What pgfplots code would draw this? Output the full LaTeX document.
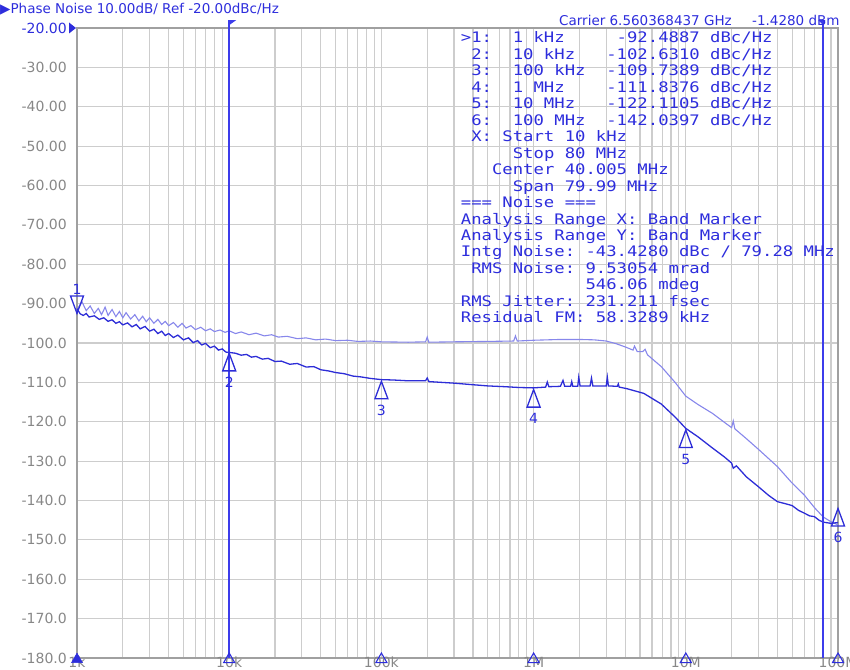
\documentclass[border=0pt]{standalone}
\usepackage{fontspec}
\setmainfont{DejaVu Sans}
\newfontfamily\monofont[FakeStretch=1.19]{DejaVu Sans Mono}
\usepackage{pgfplots}
\pgfplotsset{compat=1.18}

\definecolor{tracedark}{RGB}{45,45,215}
\definecolor{tracelight}{RGB}{135,135,235}
\definecolor{txtblue}{RGB}{45,45,220}
\definecolor{bandblue}{RGB}{60,60,235}
\definecolor{gridgray}{RGB}{205,205,205}
\definecolor{axgray}{RGB}{160,160,160}
\definecolor{lblgray}{RGB}{135,135,135}

\newcommand{\tickfont}{\fontsize{14bp}{16bp}\selectfont}
\newcommand{\hdrfont}{\fontsize{13.5bp}{16bp}\selectfont}
\newcommand{\tabfont}{\monofont\fontsize{14.5bp}{16bp}\selectfont}

% marker shapes: tip sits on the data point
\pgfdeclareplotmark{mkup}{%
  \pgfpathmoveto{\pgfpoint{0pt}{0pt}}%
  \pgfpathlineto{\pgfpoint{-6.5bp}{-17.5bp}}%
  \pgfpathlineto{\pgfpoint{6.5bp}{-17.5bp}}%
  \pgfpathclose\pgfusepathqstroke}
\pgfdeclareplotmark{mkdown}{%
  \pgfpathmoveto{\pgfpoint{0pt}{0pt}}%
  \pgfpathlineto{\pgfpoint{-6.5bp}{17.5bp}}%
  \pgfpathlineto{\pgfpoint{6.5bp}{17.5bp}}%
  \pgfpathclose\pgfusepathqstroke}
\pgfdeclareplotmark{flagR}{%
  \pgfpathmoveto{\pgfpoint{0pt}{0pt}}%
  \pgfpathlineto{\pgfpoint{7bp}{0pt}}%
  \pgfpathlineto{\pgfpoint{0pt}{-5bp}}%
  \pgfpathclose\pgfusepathqfill}
\pgfdeclareplotmark{flagL}{%
  \pgfpathmoveto{\pgfpoint{-5bp}{0pt}}%
  \pgfpathlineto{\pgfpoint{2bp}{0pt}}%
  \pgfpathlineto{\pgfpoint{0pt}{-5bp}}%
  \pgfpathclose\pgfusepathqfill}
\pgfdeclareplotmark{reftri}{%
  \pgfpathmoveto{\pgfpoint{-1bp}{0pt}}%
  \pgfpathlineto{\pgfpoint{-8bp}{5.5bp}}%
  \pgfpathlineto{\pgfpoint{-8bp}{-5.5bp}}%
  \pgfpathclose\pgfusepathqfill}

\pgfplotstableread{
x y
1000 -91.3
1050 -92.6
1100 -93.0
1150 -92.5
1200 -93.4
1300 -93.1
1400 -94.0
1500 -93.6
1600 -94.5
1700 -94.1
1800 -95.0
1900 -94.6
2000 -95.4
2150 -94.9
2300 -95.9
2450 -95.3
2600 -96.4
2800 -95.8
3000 -97.0
3200 -96.5
3400 -97.6
3600 -97.0
3800 -98.1
4000 -97.6
4300 -98.6
4600 -98.0
5000 -99.2
5400 -98.7
5800 -99.9
6200 -99.4
6600 -100.5
7000 -100.1
7500 -101.2
8000 -100.8
8500 -101.8
9000 -101.5
9500 -102.3
10000 -102.4
11000 -102.6
12000 -103.1
13000 -102.9
14000 -103.6
15000 -103.4
16500 -104.1
18000 -103.9
20000 -104.7
22000 -104.6
25000 -105.4
28000 -105.2
32000 -106.1
36000 -106.0
40000 -106.8
45000 -107.1
50000 -107.5
57000 -107.8
65000 -108.4
73000 -108.6
85000 -109.0
100000 -109.3
120000 -109.4
150000 -109.6
195000 -109.6
200000 -108.9
205000 -109.8
300000 -110.2
400000 -110.6
500000 -110.9
650000 -111.1
800000 -111.3
1000000 -111.4
1200000 -111.2
1230000 -109.9
1260000 -111.1
1500000 -111.0
1560000 -109.5
1600000 -111.0
1750000 -111.0
1780000 -109.8
1810000 -111.0
1950000 -111.0
1980000 -108.7
2020000 -110.9
2350000 -110.9
2400000 -108.9
2450000 -110.9
3000000 -110.9
3050000 -108.7
3100000 -110.9
3550000 -111.0
3600000 -110.4
3650000 -111.2
4100000 -111.6
5300000 -112.8
6900000 -115.5
8500000 -118.8
10000000 -121.7
12000000 -123.8
15000000 -126.7
18000000 -129.0
20000000 -130.5
20500000 -131.8
21500000 -131.2
25000000 -134.0
30000000 -136.5
35000000 -138.7
40000000 -140.3
45000000 -140.8
50000000 -141.3
55000000 -142.5
60000000 -143.2
65000000 -143.9
70000000 -144.1
75000000 -145.0
80000000 -145.5
90000000 -145.8
100000000 -145.6
}\darktrace

\pgfplotstableread{
x y
1000 -91.5
1080 -89.6
1150 -91.8
1220 -90.6
1300 -92.5
1380 -91.2
1450 -92.8
1530 -90.9
1600 -93.0
1700 -91.5
1800 -93.3
1900 -92.0
2000 -93.6
2100 -92.3
2250 -93.9
2400 -92.8
2550 -94.4
2700 -93.2
2850 -94.6
3000 -93.6
3200 -95.0
3400 -94.0
3600 -95.3
3800 -94.5
4000 -95.6
4300 -94.8
4600 -96.0
4900 -95.0
5200 -96.2
5600 -95.6
6000 -96.6
6500 -96.0
7000 -96.9
7500 -96.4
8000 -97.1
8700 -96.7
9400 -97.3
10000 -96.9
11000 -97.6
12000 -97.2
13500 -97.9
15000 -97.5
17000 -98.2
19000 -97.9
21000 -98.5
24000 -98.3
28000 -98.9
32000 -98.7
37000 -99.2
43000 -99.0
50000 -99.4
60000 -99.3
70000 -99.6
85000 -99.5
100000 -99.7
150000 -99.8
195000 -99.7
200000 -98.5
205000 -99.8
300000 -99.7
500000 -99.6
740000 -99.5
760000 -98.2
780000 -99.5
1000000 -99.3
1500000 -99.1
2000000 -99.1
2500000 -99.2
3000000 -99.5
3500000 -100.2
4000000 -101.0
4500000 -101.8
4600000 -100.8
4800000 -102.2
5200000 -102.2
5400000 -101.6
5600000 -103.0
6900000 -106.0
8500000 -110.0
10000000 -113.5
12000000 -115.6
15000000 -117.9
18000000 -120.2
20000000 -121.5
20500000 -119.8
21000000 -121.8
25000000 -124.3
30000000 -127.0
40000000 -131.4
50000000 -135.6
60000000 -138.6
70000000 -141.8
80000000 -144.2
90000000 -145.4
100000000 -146.2
}\lighttrace

\pgfplotstableread{
x y
10000 -180
10000 -18
}\bandlo

\pgfplotstableread{
x y
80000000 -180
80000000 -18
}\bandhi

\begin{document}
\begin{tikzpicture}
\path[use as bounding box] (-77bp,-12bp) rectangle (773bp,658bp);
\begin{axis}[
  at={(0,0)}, anchor=south west,
  width=761bp, height=630bp, scale only axis,
  xmode=log, xmin=1e3, xmax=1e8, ymin=-180, ymax=-20,
  xtick={1e3,1e4,1e5,1e6,1e7,1e8},
  xticklabels={1k,10k,100k,1M,10M,100M},
  ytick={-180,-170,...,-20},
  yticklabels={-180.0,-170.0,-160.0,-150.0,-140.0,-130.0,-120.0,-110.0,-100.0,
    -90.00,-80.00,-70.00,-60.00,-50.00,-40.00,-30.00,{\color{txtblue}-20.00}},
  grid=both,
  major grid style={draw=gridgray, line width=1.2bp},
  minor grid style={draw=gridgray, line width=1.2bp},
  axis line style={draw=axgray, line width=1.4bp},
  major tick length=0pt, minor tick length=0pt,
  tick style={draw=none},
  xticklabel style={font=\tickfont, text=lblgray, anchor=north, inner sep=0pt, yshift=1bp},
  yticklabel style={font=\tickfont, text=lblgray, anchor=east, inner sep=0pt, xshift=-10bp},
  clip=false,
]
\addplot[color=tracelight, line width=1.1bp] table {\lighttrace};
\addplot[color=tracedark, line width=1.3bp] table {\darktrace};

% band markers
\addplot[color=bandblue, line width=1.6bp, mark=none] table {\bandlo};
\addplot[color=bandblue, line width=1.6bp, mark=none] table {\bandhi};
\addplot[color=bandblue, only marks, mark=flagR] coordinates {(1e4,-18)};
\addplot[color=bandblue, only marks, mark=flagL] coordinates {(8e7,-18)};
\addplot[color=txtblue, only marks, mark=reftri] coordinates {(1e3,-20)};

% marker stimulus triangles on the x axis
\addplot[color=txtblue, only marks, mark=triangle*, mark size=6.35bp] coordinates {(1e3,-180.35)};
\addplot[color=txtblue, only marks, mark=triangle, mark size=6.35bp, mark options={line width=1.1bp}]
  coordinates {(1e4,-180.35) (1e5,-180.35) (1e6,-180.35) (1e7,-180.35) (1e8,-180.35)};

% markers
\addplot[color=tracedark, only marks, mark=mkdown, mark options={line width=1.3bp}] coordinates {(1e3,-92.4887)};
\addplot[color=tracedark, only marks, mark=mkup, mark options={line width=1.3bp}]
  coordinates {(1e4,-102.6310) (1e5,-109.7389) (1e6,-111.8376) (1e7,-122.1105) (1e8,-142.0397)};
\node[font=\tickfont, text=txtblue, yshift=24bp] at (axis cs:1e3,-92.4887) {1};
\node[font=\tickfont, text=txtblue, yshift=-29bp] at (axis cs:1e4,-102.6310) {2};
\node[font=\tickfont, text=txtblue, yshift=-29bp] at (axis cs:1e5,-109.7389) {3};
\node[font=\tickfont, text=txtblue, yshift=-29bp] at (axis cs:1e6,-111.8376) {4};
\node[font=\tickfont, text=txtblue, yshift=-29bp] at (axis cs:1e7,-122.1105) {5};
\node[font=\tickfont, text=txtblue, yshift=-29bp] at (axis cs:1e8,-142.0397) {6};
\end{axis}

\begin{scope}[shift={(-77bp,658bp)}, x=1bp, y=-1bp]
\node[font=\hdrfont, text=txtblue, anchor=base west, inner sep=0pt] at (0,14) {▶Phase Noise 10.00dB/ Ref -20.00dBc/Hz};
\node[font=\hdrfont, text=txtblue, anchor=base west, inner sep=0pt] at (559,26) {Carrier 6.560368437 GHz};
\node[font=\hdrfont, text=txtblue, anchor=base west, inner sep=0pt] at (752,26) {-1.4280 dBm};
\begin{scope}[every node/.style={font=\tabfont, text=txtblue, anchor=base west, inner sep=0pt}]
\node at (460.7,43.0) {>1:~~1~kHz~~~~~-92.4887~dBc/Hz};
\node at (460.7,59.5) {~2:~~10~kHz~~~-102.6310~dBc/Hz};
\node at (460.7,75.9) {~3:~~100~kHz~~-109.7389~dBc/Hz};
\node at (460.7,92.4) {~4:~~1~MHz~~~~-111.8376~dBc/Hz};
\node at (460.7,108.8) {~5:~~10~MHz~~~-122.1105~dBc/Hz};
\node at (460.7,125.3) {~6:~~100~MHz~~-142.0397~dBc/Hz};
\node at (460.7,141.8) {~X:~Start~10~kHz};
\node at (460.7,158.2) {~~~~~Stop~80~MHz};
\node at (460.7,174.7) {~~~Center~40.005~MHz};
\node at (460.7,191.1) {~~~~~Span~79.99~MHz};
\node at (460.7,207.6) {===~Noise~===};
\node at (460.7,224.1) {Analysis~Range~X:~Band~Marker};
\node at (460.7,240.5) {Analysis~Range~Y:~Band~Marker};
\node at (460.7,257.0) {Intg~Noise:~-43.4280~dBc~/~79.28~MHz};
\node at (460.7,273.4) {~RMS~Noise:~9.53054~mrad};
\node at (460.7,289.9) {~~~~~~~~~~~~546.06~mdeg};
\node at (460.7,306.4) {RMS~Jitter:~231.211~fsec};
\node at (460.7,322.8) {Residual~FM:~58.3289~kHz};
\end{scope}
\end{scope}
\end{tikzpicture}
\end{document}
